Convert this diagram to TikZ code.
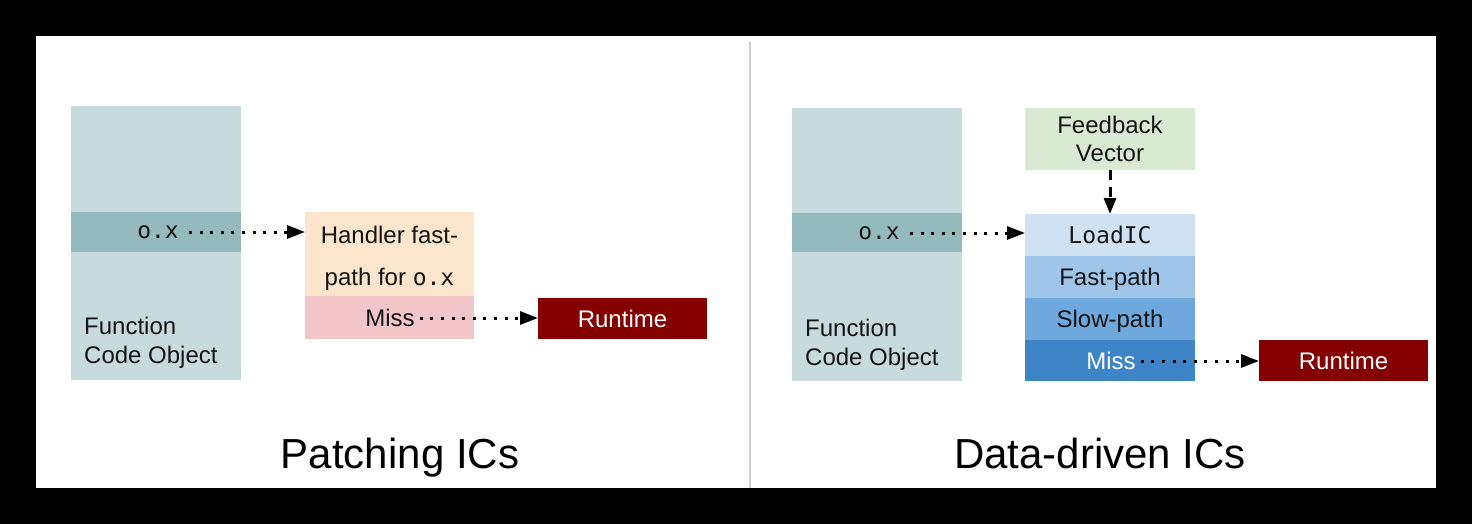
\documentclass[tikz,border=0pt]{standalone}
\usepackage{fontspec}
\setmainfont{Liberation Sans}
\setmonofont{DejaVu Sans Mono}
\usetikzlibrary{arrows.meta}

\definecolor{fcobox}{HTML}{C7DADD}
\definecolor{bandcol}{HTML}{94BABD}
\definecolor{peach}{HTML}{FCE5CD}
\definecolor{pinkmiss}{HTML}{F2C6C9}
\definecolor{rtred}{HTML}{850000}
\definecolor{fbgreen}{HTML}{D9EAD3}
\definecolor{blueA}{HTML}{CFE2F3}
\definecolor{blueB}{HTML}{9FC5E8}
\definecolor{blueC}{HTML}{6FA8DC}
\definecolor{blueD}{HTML}{3D85C6}
\definecolor{divcol}{HTML}{CCCCCC}
\definecolor{ink}{HTML}{151515}

\begin{document}
\begin{tikzpicture}[x=1pt,y=-1pt,
  blk/.style={inner sep=0pt, outer sep=0pt, anchor=north west, draw=none,
              font=\fontsize{24}{28}\selectfont, text=ink, align=center, text depth=0pt},
  lbl/.style={inner sep=0pt, font=\fontsize{24}{29}\selectfont, text=ink},
  mono/.style={inner sep=0pt, font=\fontsize{23}{29}\ttfamily, text=ink},
  titlestyle/.style={inner sep=0pt, font=\fontsize{42}{50}\selectfont, text=black, anchor=base},
  dotarrow/.style={line width=3pt, dash pattern=on 3pt off 7.6pt,
                   -{Triangle[length=18pt,width=13pt]}},
  dasharrow/.style={line width=3pt, dash pattern=on 10pt off 7pt,
                   -{Triangle[length=16pt,width=12pt]}},
]
\fill[black] (0,0) rectangle (1472,524);
\fill[white] (36,36) rectangle (1436,488);
\useasboundingbox (0,0) rectangle (1472,524);

\draw[divcol, line width=1.5pt] (750,42) -- (750,488);

% ---------- left panel ----------
\node[blk, fill=fcobox, minimum width=170pt, minimum height=274pt] (fco1) at (71,106) {};
\node[blk, fill=bandcol, minimum width=170pt, minimum height=40pt] (band1) at (71,212) {};
\node[mono, anchor=east] (ox1) at (179,232) {o.x};
\node[lbl, anchor=west, align=left] (fcolbl1) at (84,343) {Function\\Code Object};

\node[blk, fill=peach, minimum width=169pt, minimum height=85pt] (handler) at (305,212) {};
\node[lbl, align=center, font=\fontsize{24}{42}\selectfont] (handlerlbl) at (389.5,258)
  {Handler fast-\\path for {\fontsize{23}{42}\ttfamily o.x}};
\node[blk, fill=pinkmiss, minimum width=169pt, minimum height=43pt] (miss1) at (305,296) {};
\node[lbl] (misslbl1) at (390,318) {Miss};
\node[blk, fill=rtred, text=white, minimum width=169pt, minimum height=41pt] (rt1) at (538,298) {Runtime};

\draw[dotarrow] ([xshift=10pt]ox1.east) -- (ox1 -| handler.west);
\draw[dotarrow] ([xshift=5pt]misslbl1.east) -- (misslbl1 -| rt1.west);

\node[titlestyle] (title1) at (400,468) {Patching ICs};

% ---------- right panel ----------
\node[blk, fill=fcobox, minimum width=170pt, minimum height=273pt] (fco2) at (792,108) {};
\node[blk, fill=bandcol, minimum width=170pt, minimum height=39pt] (band2) at (792,213) {};
\node[mono, anchor=east] (ox2) at (900,233) {o.x};
\node[lbl, anchor=west, align=left] (fcolbl2) at (805,345) {Function\\Code Object};

\node[blk, fill=fbgreen, minimum width=170pt, minimum height=62pt] (fb) at (1025,108) {Feedback\\Vector};
\node[blk, fill=blueA, minimum width=170pt, minimum height=42pt, font=\fontsize{23}{28}\ttfamily] (loadic) at (1025,214) {LoadIC};
\node[blk, fill=blueB, minimum width=170pt, minimum height=42pt] (fast) at (1025,256) {Fast-path};
\node[blk, fill=blueC, minimum width=170pt, minimum height=42pt] (slow) at (1025,298) {Slow-path};
\node[blk, fill=blueD, minimum width=170pt, minimum height=41pt] (miss2) at (1025,340) {};
\node[lbl, text=white] (misslbl2) at (1111,361) {Miss};
\node[blk, fill=rtred, text=white, minimum width=169pt, minimum height=41pt] (rt2) at (1259,340) {Runtime};

\draw[dotarrow] ([xshift=10pt]ox2.east) -- (ox2 -| loadic.west);
\draw[dasharrow] (fb.south) -- (loadic.north);
\draw[dotarrow] ([xshift=5pt]misslbl2.east) -- (misslbl2 -| rt2.west);

\node[titlestyle] (title2) at (1100,468) {Data-driven ICs};
\end{tikzpicture}
\end{document}
